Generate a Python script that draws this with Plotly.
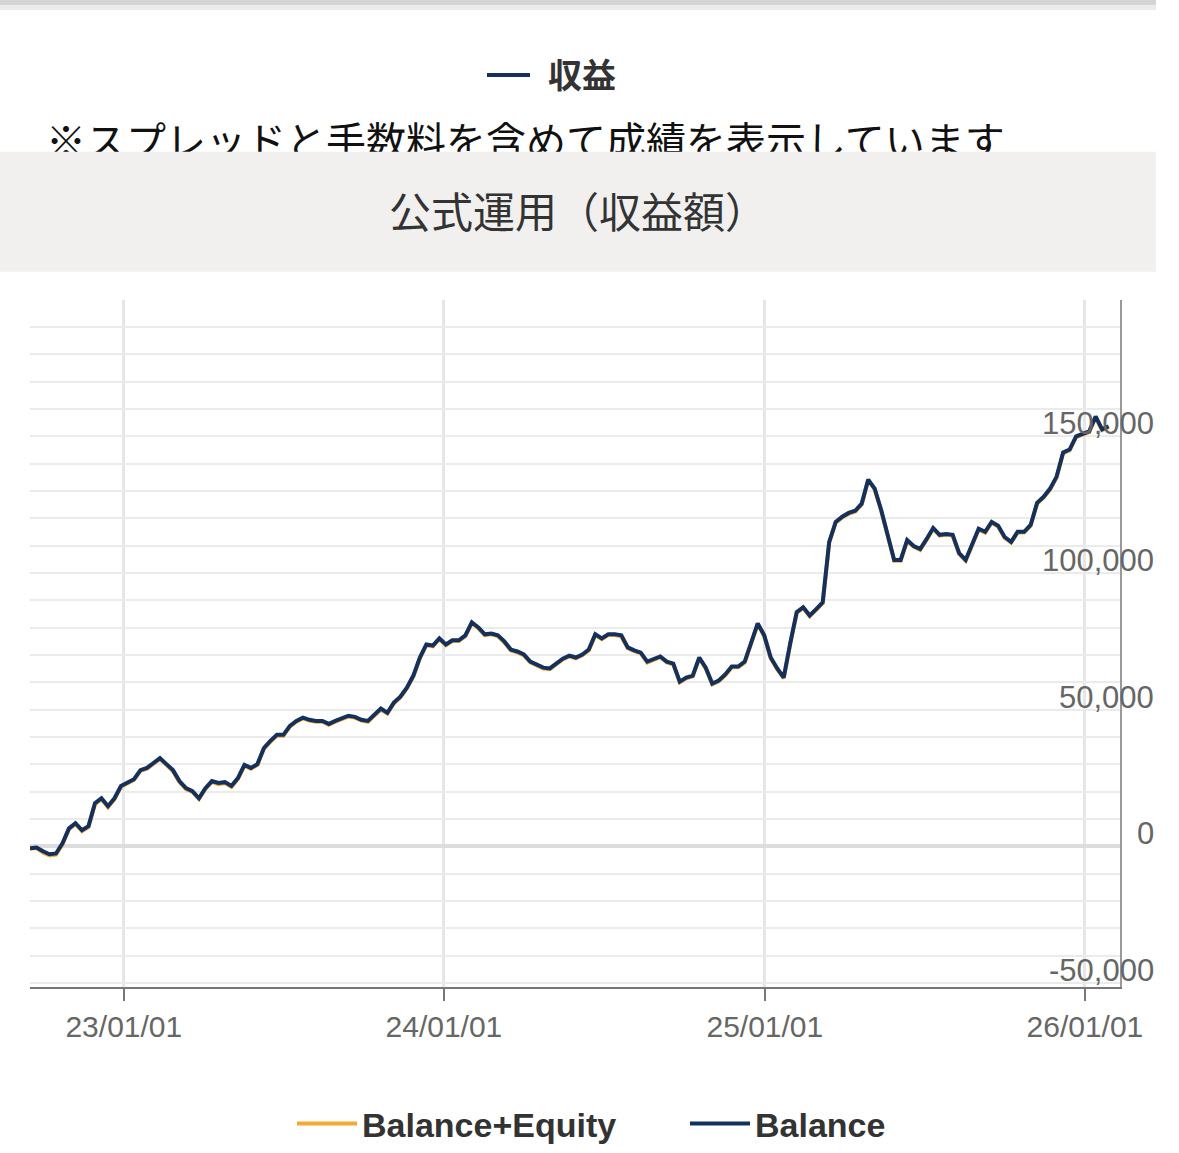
import plotly.graph_objects as go
import pandas as pd

start_date = "2022-09-16"
end_date = "2026-01-28"
balance = [-700,-400,-1800,-2900,-2600,1100,6600,8500,5900,7400,15800,17600,14700,17600,22100,23200,24600,27900,28700,30500,32300,30100,27900,23900,21300,20200,17600,21300,23900,23200,23500,22100,25000,29800,28700,30100,36000,38600,40800,40800,44100,45900,47100,46300,45900,45900,44800,45900,46700,47800,47400,46300,45900,48200,50400,48900,52600,54800,58100,62500,69100,73900,73500,76100,73900,75400,75400,77200,82000,80100,77600,77900,77200,75000,72000,71300,70200,67600,66500,65400,65100,66900,68700,69800,69100,70200,72000,77600,76100,77600,77600,77200,72800,71700,70900,67600,68400,69500,67600,66900,60300,61800,62500,69100,65400,59600,60700,62900,65800,65800,67600,74300,81600,77200,69100,65100,61800,74300,85700,87500,84500,86800,89300,111400,118700,120600,122000,122800,125400,134200,130900,123100,114000,104800,104800,112100,109900,108800,112500,116500,114000,114300,114000,107300,104800,110300,116200,115100,118700,117300,113200,111400,115100,115100,117600,125700,127900,130900,135300,144100,145200,150000,151100,151800,157300,152600,153700]
equity = [-900,-600,-2200,-3300,-3000,800,6300,8200,5600,7100,15400,17300,14300,17300,21800,22900,24300,27600,28400,30200,32000,29800,27500,23500,21000,19900,17300,21000,23600,22800,23200,21800,24700,29500,28400,29800,35700,38300,40500,40500,43800,45600,46800,46000,45600,45600,44500,45600,46400,47500,47100,46000,45600,47900,50100,48600,52300,54500,57800,62200,68800,73600,73200,75800,73600,75100,75100,76900,81700,79800,77300,77600,76900,74700,71700,71000,69900,67300,66200,65100,64800,66600,68400,69500,68800,69900,71700,77300,75800,77300,77300,76900,72500,71400,70600,67300,68100,69200,67300,66600,60000,61500,62200,68800,65100,59300,60400,62600,65500,65500,67300,74000,81300,76900,68800,64800,61500,74000,85400,87200,84200,86500,89000,111100,118400,120300,121700,122500,125100,133900,130600,122800,113700,104500,104500,111800,109600,108500,112200,116200,113700,114000,113700,107000,104500,110000,115900,114800,118400,117000,112900,111100,114800,114800,117300,125400,127600,130600,135000,143800,144900,149700,150800,151500,157000,152300,153400]
year_ticks = ["2023-01-01", "2024-01-01", "2025-01-01", "2026-01-01"]
year_labels = ["23/01/01", "24/01/01", "25/01/01", "26/01/01"]
y_major = [150000, 100000, 50000, 0, -50000]
y_labels = ["150,000", "100,000", "50,000", "0", "-50,000"]

dates = pd.date_range(start_date, end_date, periods=len(balance))
W, H = 1179, 1153
WE = 1156  # effective rendered width
FONT = "Noto Sans CJK JP"
LAT = "Liberation Sans, Arial, sans-serif"
fig = go.Figure()
fig.add_trace(go.Scatter(x=dates, y=equity, mode="lines", name="<b>Balance+Equity</b>",
                         line=dict(color="#f5a935", width=4)))
fig.add_trace(go.Scatter(x=dates, y=balance, mode="lines", name="<b>Balance</b>",
                         line=dict(color="#14305c", width=4)))
fig.add_trace(go.Scatter(x=[46], y=[146], mode="text", xaxis="x2", yaxis="y2",
                         text=["※スプレッドと手数料を含めて成績を表示しています"],
                         textposition="middle right", showlegend=False, hoverinfo="skip",
                         textfont=dict(size=40, color="#111", family=FONT)))

ann = []
for v, t in zip(y_major, y_labels):
    ann.append(dict(x=1156 / WE, xref="paper", y=v, yref="y", text=t, showarrow=False,
                    xanchor="right", yanchor="bottom", yshift=-7,
                    font=dict(size=31, color="#666", family=LAT)))
ann.append(dict(x=578 / WE, y=1 - 210 / H, xref="paper", yref="paper", text="公式運用（収益額）",
                showarrow=False, yanchor="middle", font=dict(size=42, color="#333", family=FONT)))
ann.append(dict(x=546 / WE, y=1 - 74 / H, xref="paper", yref="paper", text="<b>収益</b>",
                showarrow=False, xanchor="left", yanchor="middle",
                font=dict(size=34, color="#333", family=FONT)))

shapes = [
    dict(type="rect", xref="paper", yref="paper", x0=0, x1=1, y0=1 - 272 / H, y1=1 - 152 / H,
         fillcolor="#f1f0ef", line=dict(width=0), layer="above"),
    dict(type="rect", xref="paper", yref="paper", x0=0, x1=1, y0=1 - 5 / H, y1=1,
         fillcolor="#d4d4d4", line=dict(width=0), layer="above"),
    dict(type="rect", xref="paper", yref="paper", x0=0, x1=1, y0=1 - 10 / H, y1=1 - 5 / H,
         fillcolor="#ececec", line=dict(width=0), layer="above"),
    dict(type="line", xref="paper", yref="paper", x0=487 / WE, x1=530 / WE, y0=1 - 75 / H, y1=1 - 75 / H,
         line=dict(color="#14305c", width=4)),
]

fig.update_layout(
    autosize=False, width=W, height=H, margin=dict(l=0, r=0, t=0, b=0),
    paper_bgcolor="white", plot_bgcolor="rgba(0,0,0,0)",
    font=dict(family=FONT),
    annotations=ann, shapes=shapes,
    xaxis=dict(domain=[30 / WE, 1120 / WE], range=["2022-09-16", "2026-02-10"],
               tickvals=year_ticks, ticktext=year_labels, showgrid=True, gridcolor="#e6e6e6", gridwidth=3,
               ticks="outside", ticklen=12, tickwidth=2, tickcolor="#777",
               showline=True, linecolor="#777", linewidth=2, zeroline=False,
               tickfont=dict(size=30, color="#666", family=LAT)),
    yaxis=dict(domain=[1 - 988 / H, 1 - 300 / H], range=[-51500, 200000], side="right",
               dtick=10000, showticklabels=False, gridcolor="#ebebeb", gridwidth=2,
               zeroline=True, zerolinecolor="#dddddd", zerolinewidth=4,
               showline=True, linecolor="#999", linewidth=2),
    xaxis2=dict(domain=[0, 1], range=[0, WE], visible=False, anchor="y2"),
    yaxis2=dict(domain=[0, 1], range=[H, 0], visible=False, anchor="x2"),
    legend=dict(orientation="h", x=292 / WE, xanchor="left", y=1 - 1125 / H, yanchor="middle",
                font=dict(size=34, color="#333", family=LAT), entrywidth=318, entrywidthmode="pixels",
                itemwidth=60),
    showlegend=True,
)
fig.write_html("out.html", config={"displayModeBar": False, "responsive": False},
               post_script="document.body.style.margin='0';document.body.style.overflow='hidden';")
